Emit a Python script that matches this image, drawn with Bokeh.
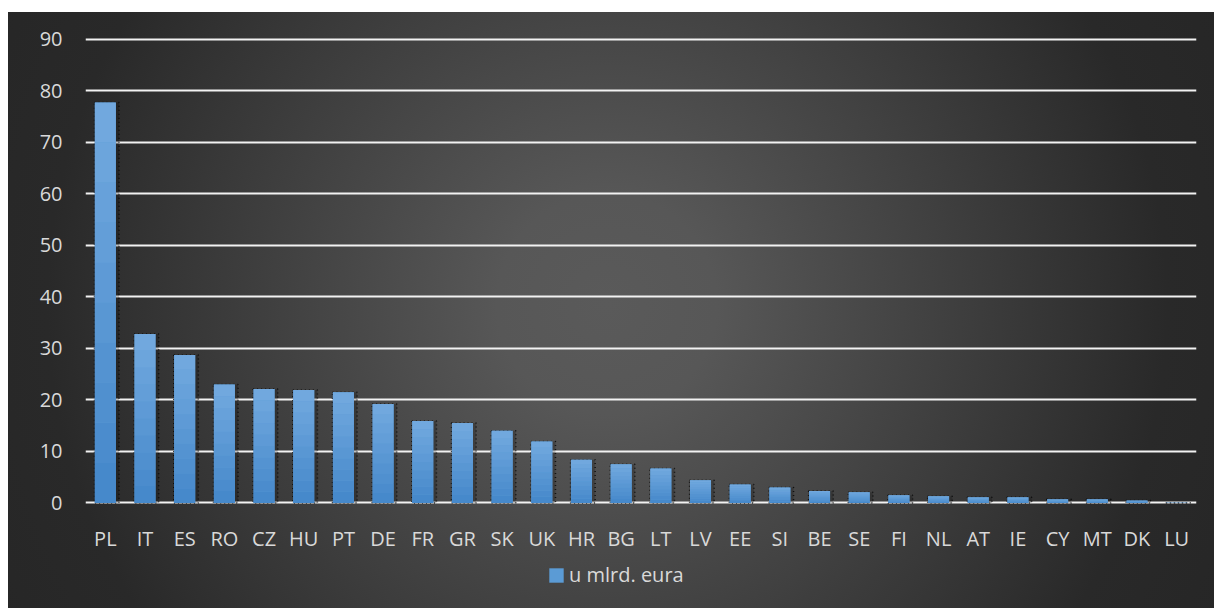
import numpy as np
from bokeh.plotting import figure
from bokeh.layouts import column
from bokeh.models import ColumnDataSource, FactorRange, Range1d, FixedTicker, Legend, LegendItem
from bokeh.transform import dodge
from bokeh.embed import file_html
from bokeh.resources import INLINE

countries = ["PL", "IT", "ES", "RO", "CZ", "HU", "PT", "DE", "FR", "GR", "SK", "UK", "HR", "BG",
             "LT", "LV", "EE", "SI", "BE", "SE", "FI", "NL", "AT", "IE", "CY", "MT", "DK", "LU"]
values = [77.7, 32.8, 28.7, 23.0, 22.1, 21.9, 21.5, 19.2, 15.9, 15.5, 14.0, 11.9, 8.4, 7.5,
          6.7, 4.4, 3.6, 3.0, 2.3, 2.1, 1.5, 1.3, 1.1, 1.1, 0.7, 0.7, 0.5, 0.05]
series_name = "u mlrd. eura"
y_ticks = [0, 10, 20, 30, 40, 50, 60, 70, 80, 90]

src = ColumnDataSource(data=dict(country=countries, value=values))

FONT = "Open Sans"
TXT = "#d9d9d9"
BAR = "#5b9bd5"
BAR_BOTTOM = (0x46, 0x89, 0xcb)
BAR_TOP = (0x71, 0xa8, 0xde)
N_BANDS = 10

p = figure(
    width=1214, height=560,
    x_range=FactorRange(factors=countries),
    y_range=Range1d(-0.3, 90.3),
    output_backend="svg", toolbar_location=None,
    min_border_left=85, min_border_right=18, min_border_top=37, min_border_bottom=56,
)
p.background_fill_alpha = 0
p.border_fill_alpha = 0
p.outline_line_color = None

# shadow
p.vbar(x=dodge("country", 0.035, range=p.x_range), top="value", width=0.62, bottom=0, source=src,
       fill_color="black", fill_alpha=0.2, line_color="black", line_alpha=0.75,
       line_dash="1 3", line_width=1.5)

bars = p.vbar(x="country", top="value", width=0.53, bottom=0, source=src,
              fill_color=BAR, line_color=None)

# vertical gradient inside each bar (per-bar bands)
vals = np.array(values)
for k in range(N_BANDS):
    t = k / (N_BANDS - 1)
    c = "#%02x%02x%02x" % tuple(int(round(b + (a - b) * t)) for a, b in zip(BAR_TOP, BAR_BOTTOM))
    band = ColumnDataSource(data=dict(country=countries,
                                      lo=vals * k / N_BANDS,
                                      hi=vals * (k + 1) / N_BANDS))
    p.vbar(x="country", top="hi", bottom="lo", width=0.53, source=band,
           fill_color=c, line_color=None)

p.xgrid.grid_line_color = None
p.ygrid.grid_line_color = "#f2f2f2"
p.ygrid.grid_line_width = 2
p.ygrid.ticker = FixedTicker(ticks=y_ticks)

p.yaxis.ticker = FixedTicker(ticks=y_ticks)
for ax in (p.xaxis[0], p.yaxis[0]):
    ax.axis_line_color = None
    ax.major_tick_line_color = None
    ax.minor_tick_line_color = None
    ax.major_tick_out = 0
    ax.major_tick_in = 0
    ax.major_label_text_font = FONT
    ax.major_label_text_font_size = "20px"
    ax.major_label_text_color = TXT
p.yaxis.major_label_standoff = 23
p.xaxis.major_label_standoff = 20

# legend strip below the chart (its frame is aligned with the chart's frame)
lg = figure(width=1214, height=48, x_range=Range1d(0, 1), y_range=Range1d(0, 1),
            x_axis_type=None, y_axis_type=None, output_backend="svg", toolbar_location=None,
            min_border=0)
lg.background_fill_alpha = 0
lg.border_fill_alpha = 0
lg.outline_line_color = None
lg.xgrid.grid_line_color = None
lg.ygrid.grid_line_color = None
dummy = lg.vbar(x=[0.5], top=[0.5], width=0.01, fill_color=BAR, line_color=None)
dummy.visible = False

legend = Legend(items=[LegendItem(label=series_name, renderers=[dummy])],
                location=(462, 20), orientation="horizontal",
                padding=0, margin=0, spacing=0,
                glyph_width=18, glyph_height=18, label_height=14, label_standoff=4,
                label_text_font=FONT, label_text_font_size="20px", label_text_color=TXT,
                inactive_fill_alpha=0,
                border_line_color=None, background_fill_alpha=0)
lg.add_layout(legend, "center")

layout = column(p, lg, spacing=0)
layout.styles = {
    "background": "linear-gradient(#ffffff, #ffffff) top left / 100% 12px no-repeat, "
                  "linear-gradient(#ffffff, #ffffff) top left / 8px 100% no-repeat, "
                  "radial-gradient(circle 700px at 50% 50%, #5a5a5a 0px, #575757 110px, #292929 560px, #262626 700px)"
}

open("out.html", "w").write(file_html(layout, INLINE))
